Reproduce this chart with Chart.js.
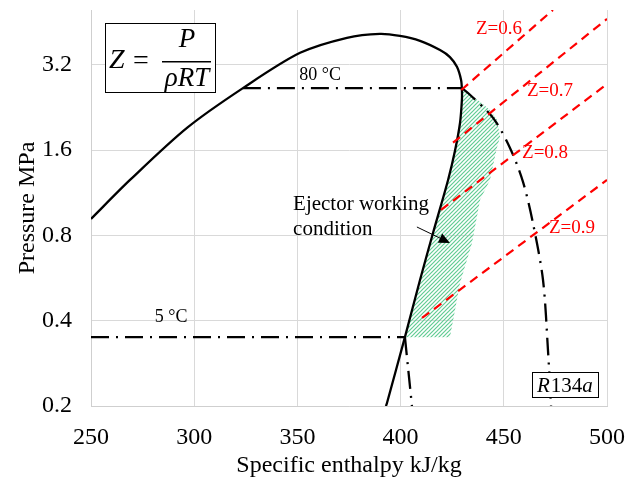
<!DOCTYPE html>
<html>
<head>
<meta charset="utf-8">
<script src="https://cdn.jsdelivr.net/npm/chart.js@4.4.1/dist/chart.umd.min.js"></script>
<style>
  html, body { margin: 0; padding: 0; background: #fff; }
</style>
</head>
<body>
<canvas id="chart" width="628" height="482"></canvas>
<script>
const xTicks = [250, 300, 350, 400, 450, 500];
const yTicks = [0.2, 0.4, 0.8, 1.6, 3.2];

// saturation dome, enthalpy kJ/kg vs pressure MPa
const domeH = [250, 268.9, 296.5, 323.6, 351.3, 374.0, 390.0, 399.7, 409.4, 419.1, 423.9, 427.3, 429.3, 429.7, 429.7, 428.8, 426.4, 423.0, 415.7, 409.4, 402.1, 393.4, 392.9];
const domeP = [0.915, 1.256, 1.918, 2.65, 3.53, 3.99, 4.12, 4.05, 3.89, 3.61, 3.41, 3.15, 2.83, 2.61, 2.41, 2.00, 1.60, 1.256, 0.816, 0.557, 0.350, 0.205, 0.2];

// dash-dot curves
const expH = [429.7, 433.6, 444.8, 453.0, 459.3, 464.1, 469.0, 471.4, 472.9];
const expP = [2.65, 2.51, 2.08, 1.63, 1.236, 0.886, 0.557, 0.315, 0.2];
const shortH = [402.1, 405.5];
const shortP = [0.35, 0.2];
const t80H = [323.6, 429.7];
const t80P = [2.65, 2.65];
const t5H = [250, 402.1];
const t5P = [0.35, 0.35];

// compressibility lines
const zNames = ['Z=0.6', 'Z=0.7', 'Z=0.8', 'Z=0.9'];
const zH = [[429.4, 473.8], [425.4, 500], [419.6, 500], [410.4, 500]];
const zP = [[2.61, 5.0], [1.70, 4.65], [0.985, 2.74], [0.409, 1.256]];

// ejector working region
const areaH = [429.7, 433.6, 438.5, 443.3, 446.7, 448.2, 446.7, 443.3, 438.5, 434.6, 428.8, 423.9, 402.1, 409.4, 415.7, 423.0, 426.4, 428.8, 429.7, 429.7];
const areaP = [2.61, 2.51, 2.37, 2.22, 2.05, 1.78, 1.64, 1.256, 1.07, 0.753, 0.544, 0.35, 0.35, 0.557, 0.816, 1.256, 1.60, 2.00, 2.41, 2.61];

// label anchors (kJ/kg, MPa)
const zLabelH = [447.7, 472.4, 470.0, 483.0];
const zLabelP = [4.29, 2.59, 1.56, 0.85];

const SERIF = '"Liberation Serif", "Times New Roman", serif';

const pts = (h, p) => h.map((v, i) => ({ x: v, y: p[i] }));

function hatch() {
  const c = document.createElement('canvas');
  c.width = c.height = 4;
  const g = c.getContext('2d');
  g.strokeStyle = '#62cc94';
  g.lineWidth = 1.2;
  for (const o of [-4, 0, 4]) {
    g.beginPath();
    g.moveTo(o - 1, 5);
    g.lineTo(o + 5, -1);
    g.stroke();
  }
  return g.createPattern(c, 'repeat');
}

// no auto padding so the plot area is exactly where the layout puts it
function noPad(s) {
  s.paddingTop = s.paddingBottom = s.paddingLeft = s.paddingRight = 0;
}

const dashDot = [18, 7, 2, 7];
const line = (h, p, extra) => Object.assign({
  data: pts(h, p), showLine: true, pointRadius: 0, borderColor: '#000',
  borderWidth: 2.3, fill: false, tension: 0, order: 1,
}, extra);

const datasets = [
  line(areaH, areaP, { borderWidth: 0, borderColor: 'rgba(0,0,0,0)', backgroundColor: hatch(), fill: 'shape', order: 9 }),
  line(domeH, domeP, { tension: 0.3 }),
  line(expH, expP, { borderDash: dashDot, tension: 0.3 }),
  line(shortH, shortP, { borderDash: dashDot }),
  line(t80H, t80P, { borderDash: dashDot }),
  line(t5H, t5P, { borderDash: dashDot }),
  ...zH.map((h, i) => line(h, zP[i], { borderColor: '#ff0000', borderDash: [9, 6], borderWidth: 2.2, order: 0 })),
];

const notes = {
  id: 'notes',
  afterDatasetsDraw(chart) {
    const { ctx, scales: { x, y } } = chart;
    const X = v => x.getPixelForValue(v);
    const Y = v => y.getPixelForValue(v);
    ctx.save();
    ctx.textBaseline = 'middle';

    // isotherm labels
    ctx.fillStyle = '#000';
    ctx.font = '18px ' + SERIF;
    ctx.textAlign = 'center';
    ctx.fillText('80 °C', X(361), Y(2.93));
    ctx.fillText('5 °C', X(288.8), Y(0.412));

    // Z labels
    ctx.fillStyle = '#ff0000';
    ctx.font = '19px ' + SERIF;
    zNames.forEach((t, i) => ctx.fillText(t, X(zLabelH[i]), Y(zLabelP[i])));

    // ejector note + arrow
    ctx.fillStyle = '#000';
    ctx.font = '21px ' + SERIF;
    ctx.textAlign = 'left';
    ctx.fillText('Ejector working', X(347.9), Y(1.03));
    ctx.fillText('condition', X(347.9), Y(0.837));
    const ax0 = X(407.9), ay0 = Y(0.857), ax1 = X(423.9), ay1 = Y(0.753);
    const ang = Math.atan2(ay1 - ay0, ax1 - ax0);
    ctx.strokeStyle = '#000';
    ctx.lineWidth = 1;
    ctx.beginPath();
    ctx.moveTo(ax0, ay0);
    ctx.lineTo(ax1 - 8 * Math.cos(ang), ay1 - 8 * Math.sin(ang));
    ctx.stroke();
    ctx.beginPath();
    ctx.moveTo(ax1, ay1);
    ctx.lineTo(ax1 - 11 * Math.cos(ang) + 5 * Math.sin(ang), ay1 - 11 * Math.sin(ang) - 5 * Math.cos(ang));
    ctx.lineTo(ax1 - 11 * Math.cos(ang) - 5 * Math.sin(ang), ay1 - 11 * Math.sin(ang) + 5 * Math.cos(ang));
    ctx.closePath();
    ctx.fill();

    // formula box
    const a = chart.chartArea;
    const bx = a.left + 14, by = a.top + 13;
    ctx.fillStyle = '#fff';
    ctx.fillRect(bx, by, 110, 69);
    ctx.strokeRect(bx + 0.5, by + 0.5, 110, 69);
    ctx.fillStyle = '#000';
    ctx.textBaseline = 'alphabetic';
    ctx.font = 'italic 28px ' + SERIF;
    ctx.textAlign = 'left';
    ctx.fillText('Z', bx + 4, by + 45);
    ctx.font = '28px ' + SERIF;
    ctx.fillText('=', bx + 28, by + 46);
    ctx.textAlign = 'center';
    ctx.font = 'italic 27px ' + SERIF;
    ctx.fillText('P', bx + 82, by + 24);
    ctx.fillText('ρRT', bx + 82, by + 63);
    ctx.fillRect(bx + 57, by + 38, 49, 1.5);

    // refrigerant tag
    const rx = a.left + 441, ry = a.top + 362;
    ctx.fillStyle = '#fff';
    ctx.fillRect(rx, ry, 66, 25);
    ctx.strokeRect(rx + 0.5, ry + 0.5, 66, 25);
    ctx.fillStyle = '#000';
    ctx.textAlign = 'left';
    let tx = rx + 5;
    const ty = ry + 20;
    [['R', 'italic '], ['134', ''], ['a', 'italic ']].forEach(([s, st]) => {
      ctx.font = st + '21px ' + SERIF;
      ctx.fillText(s, tx, ty);
      tx += ctx.measureText(s).width + (s === 'R' ? 1 : 0);
    });
    ctx.restore();
  }
};

new Chart(document.getElementById('chart'), {
  type: 'scatter',
  data: { datasets },
  options: {
    responsive: false,
    animation: false,
    layout: { padding: { left: 0, right: 21, top: 10, bottom: 0 } },
    plugins: { legend: { display: false }, tooltip: { enabled: false } },
    scales: {
      x: {
        type: 'linear', min: 250, max: 500,
        afterBuildTicks: s => { s.ticks = xTicks.map(v => ({ value: v })); },
        afterFit: s => { s.height = 76; noPad(s); },
        grid: { color: '#d9d9d9', drawTicks: false },
        border: { color: '#cfcfcf' },
        ticks: { padding: 17, color: '#000', font: { family: SERIF, size: 24 } },
        title: { display: true, text: 'Specific enthalpy kJ/kg', color: '#000',
                 font: { family: SERIF, size: 24, lineHeight: 1.2 }, padding: { top: 0, bottom: 2 } },
      },
      y: {
        type: 'logarithmic', min: 0.2, max: 5,
        afterBuildTicks: s => { s.ticks = yTicks.map(v => ({ value: v })); },
        afterFit: s => { s.width = 91; noPad(s); },
        grid: { color: '#d9d9d9', drawTicks: false },
        border: { color: '#cfcfcf' },
        ticks: { padding: 19, color: '#000', font: { family: SERIF, size: 24 }, callback: v => String(v) },
        title: { display: true, text: 'Pressure MPa', color: '#000',
                 font: { family: SERIF, size: 24, lineHeight: 1.2 }, padding: { top: 13, bottom: 0 } },
      },
    },
  },
  plugins: [notes],
});
</script>
</body>
</html>
